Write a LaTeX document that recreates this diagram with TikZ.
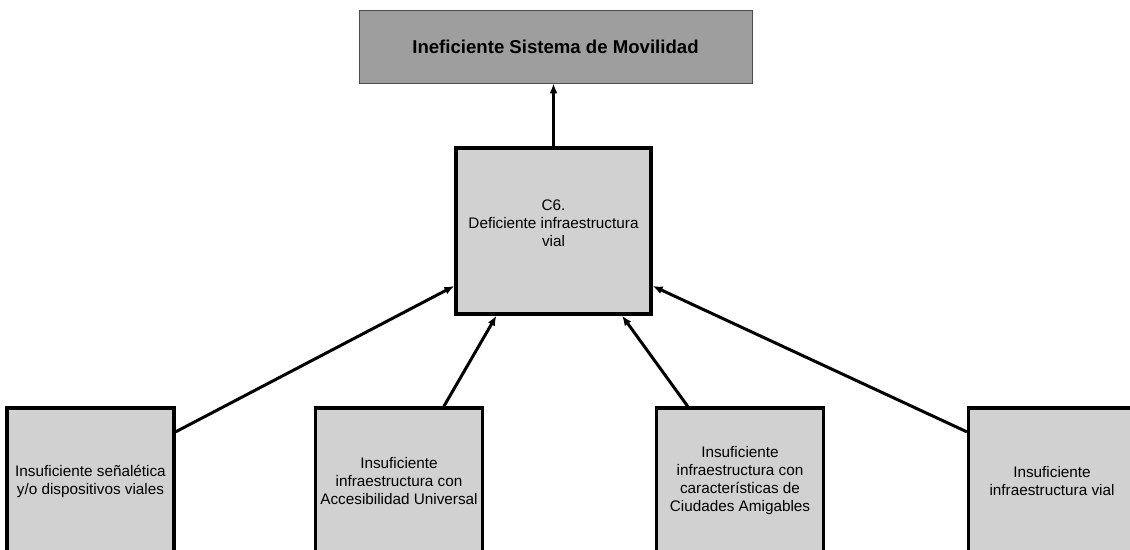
\documentclass[tikz,border=0pt]{standalone}
\usepackage{fontspec}
\setmainfont{Liberation Sans}
\usetikzlibrary{arrows.meta}
\begin{document}
\begin{tikzpicture}[x=1pt,y=-1pt,
  lbox/.style={draw=black,line width=3.2pt,fill=black!18,minimum width=167pt,minimum height=146pt,inner sep=0pt},
  txt/.style={align=center,font=\fontsize{15.3}{18}\selectfont,inner sep=0pt},
  conn/.style={line width=3pt,-{Latex[length=10pt,width=8pt]}}]
\useasboundingbox (0,0) rectangle (1130,549);
\clip (0,0) rectangle (1130,549);
\node[draw=black!70,line width=0.8pt,fill=black!38,minimum width=393pt,minimum height=73pt,
      font=\bfseries\fontsize{18.6}{22}\selectfont] (top) at (555.5,46.5) {Ineficiente Sistema de Movilidad};
\node[lbox,minimum width=195pt,minimum height=166pt] (c6) at (553.5,231) {};
\node[txt] (c6t) at (553.5,223) {C6.\\Deficiente infraestructura\\vial};
\node[lbox,txt] (b1) at (90.5,481) {Insuficiente señalética\\y/o dispositivos viales};
\node[lbox,txt] (b2) at (399,481) {Insuficiente\\infraestructura con\\Accesibilidad Universal};
\node[lbox,txt] (b3) at (740,481) {Insuficiente\\infraestructura con\\características de\\Ciudades Amigables};
\node[lbox,txt] (b4) at (1052,481) {Insuficiente\\infraestructura vial};
\draw[conn] (c6.north) -- (c6.north |- top.south);
\draw[conn] (b1.30) -- (c6.209);
\draw[conn] (b2.59) -- (c6.236);
\draw[conn] (b3.125) -- (c6.309);
\draw[conn] (b4.150) -- (c6.331);
\end{tikzpicture}
\end{document}
